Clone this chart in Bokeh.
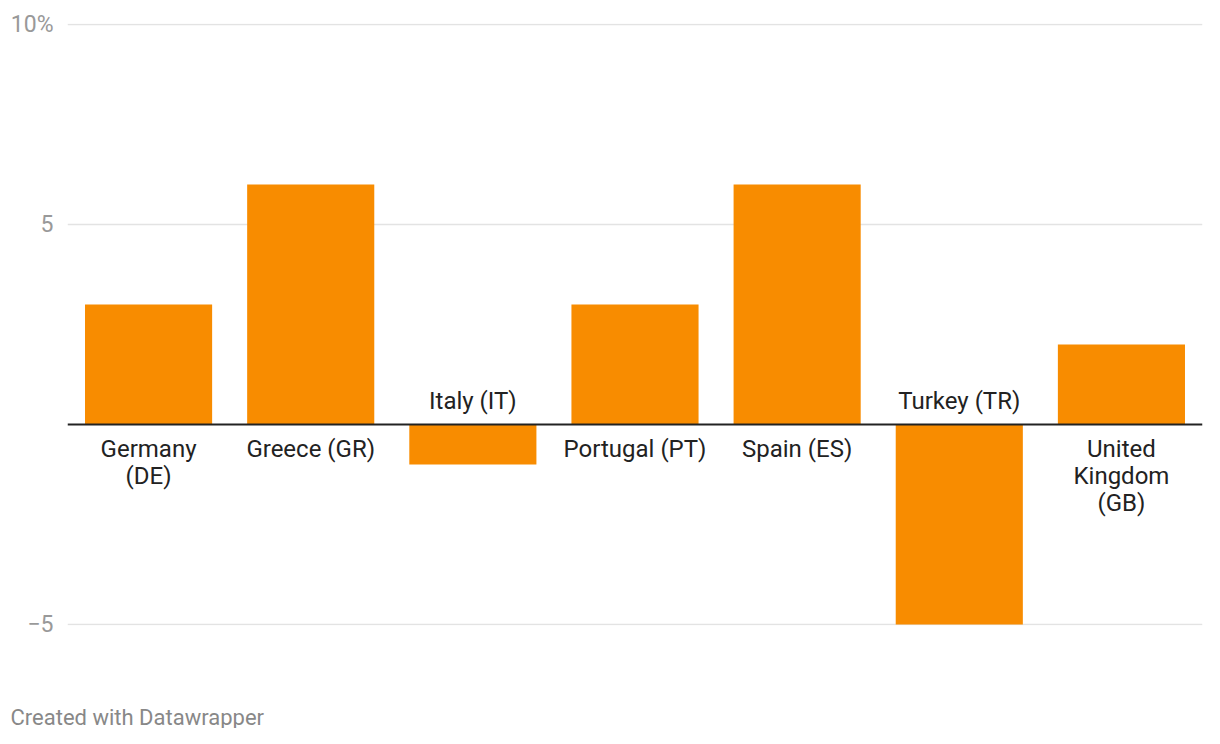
from bokeh.plotting import figure
from bokeh.models import ColumnDataSource, FixedTicker, Span, Title
from bokeh.embed import file_html
from bokeh.resources import INLINE
from bokeh.core.properties import value

countries = ["Germany\n(DE)", "Greece (GR)", "Italy (IT)", "Portugal (PT)",
             "Spain (ES)", "Turkey (TR)", "United\nKingdom\n(GB)"]
values = [3, 6, -1, 3, 6, -5, 2]
tick_values = [-5, 5, 10]
tick_labels = ["\u22125", "5", "10%"]

FONT = "Roboto"
W, H = 1204, 728

p = figure(x_range=countries, y_range=(-5.025, 10.025), width=W, height=H,
           output_backend="svg", toolbar_location=None,
           min_border_left=67, min_border_right=2, min_border_top=23,
           min_border_bottom=103)
p.x_range.range_padding = 0
p.outline_line_color = None
p.background_fill_color = "white"
p.border_fill_color = "white"

src = ColumnDataSource(dict(x=countries, top=values))
p.vbar(x="x", top="top", bottom=0, width=0.784, source=src,
       fill_color="#f88c00", line_color=None)

# labels
pos_c = [c for c, v in zip(countries, values) if v >= 0]
neg_c = [c for c, v in zip(countries, values) if v < 0]
p.text(x=pos_c, y=[0] * len(pos_c), text=pos_c, y_offset=10,
       text_align="center", text_baseline="top", text_font=value(FONT),
       text_font_size="24px", text_color="#222222", text_line_height=0.97)
p.text(x=neg_c, y=[0] * len(neg_c), text=neg_c, y_offset=-10,
       text_align="center", text_baseline="bottom", text_font=value(FONT),
       text_font_size="24px", text_color="#222222", text_line_height=0.97)

p.add_layout(Span(location=0, dimension="width", line_color="#222222",
                  line_width=2))

# x axis used only as an invisible spacer above the footer
p.xaxis.axis_line_color = None
p.xaxis.major_tick_line_color = None
p.xaxis.minor_tick_line_color = None
p.xaxis.major_tick_in = 0
p.xaxis.major_tick_out = 79
p.xaxis.major_label_text_color = None

# y axis
p.yaxis.ticker = FixedTicker(ticks=tick_values)
p.yaxis.major_label_overrides = {t: l for t, l in zip(tick_values, tick_labels)}
p.yaxis.axis_line_color = None
p.yaxis.major_tick_line_color = None
p.yaxis.minor_tick_line_color = None
p.yaxis.major_label_standoff = 8
p.yaxis.major_label_text_font = FONT
p.yaxis.major_label_text_font_size = "23px"
p.yaxis.major_label_text_color = "#999999"
p.xgrid.visible = False
p.ygrid.ticker = FixedTicker(ticks=tick_values)
p.ygrid.grid_line_color = "#e3e3e3"
p.ygrid.grid_line_width = 1.5

footer = Title(text="Created with Datawrapper", align="left", offset=-57,
               standoff=-4, text_font=FONT, text_font_size="22px",
               text_font_style="normal", text_color="#888888")
p.add_layout(footer, "below")

open("out.html", "w").write(file_html(p, INLINE))
